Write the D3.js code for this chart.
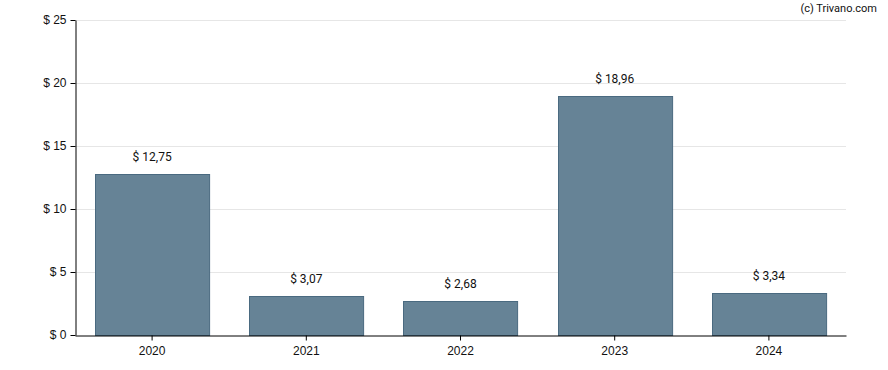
<!DOCTYPE html>
<html>
<head>
<meta charset="utf-8">
<script src="https://cdn.jsdelivr.net/npm/d3@7/dist/d3.min.js"></script>
<style>
  body { margin: 0; background: #fff; }
  svg { display: block; font-family: Roboto, "Noto Sans", sans-serif; }
  .grid line { stroke: #e6e6e6; }
  .axis text { font-size: 12px; fill: #111; }
  .axis path, .axis line { stroke: #000; }
</style>
</head>
<body>
<div id="chart"></div>
<script>
const years = ['2020', '2021', '2022', '2023', '2024'];
const values = [12.75, 3.07, 2.68, 18.96, 3.34];
const yTicks = [0, 5, 10, 15, 20, 25];

const width = 888, height = 370;
const margin = { top: 20, right: 42, bottom: 35, left: 75 };
const innerW = width - margin.left - margin.right;
const innerH = height - margin.top - margin.bottom;

const fmt = v => '$ ' + v.toFixed(2).replace('.', ',');

const svg = d3.select('#chart').append('svg')
  .attr('width', width)
  .attr('height', height);

const chart = svg.append('g')
  .attr('transform', `translate(${margin.left}, ${margin.top})`);

const xScale = d3.scaleBand().domain(years).range([0, innerW]).paddingInner(0.26).paddingOuter(0.13);
const yScale = d3.scaleLinear().domain([0, 25]).range([innerH, 0]);

// gridlines
chart.append('g')
  .attr('class', 'grid')
  .selectAll('line')
  .data(yTicks.filter(t => t > 0))
  .enter().append('line')
  .attr('x1', 0)
  .attr('x2', innerW)
  .attr('y1', d => Math.round(yScale(d)) + 0.5)
  .attr('y2', d => Math.round(yScale(d)) + 0.5);

// bars
chart.selectAll('.bar')
  .data(values)
  .enter().append('rect')
  .attr('class', 'bar')
  .attr('x', (d, i) => Math.round(xScale(years[i])) + 0.5)
  .attr('y', d => Math.round(yScale(d)) + 0.5)
  .attr('width', xScale.bandwidth())
  .attr('height', d => innerH - Math.round(yScale(d)))
  .style('fill', '#668396')
  .style('stroke', '#4a6a80')
  .style('stroke-width', 1);

// value labels
chart.selectAll('.label')
  .data(values)
  .enter().append('text')
  .attr('class', 'label')
  .attr('x', (d, i) => xScale(years[i]) + xScale.bandwidth() / 2)
  .attr('y', d => yScale(d) - 13)
  .attr('text-anchor', 'middle')
  .style('font-size', '12px')
  .style('fill', '#111')
  .text(d => fmt(d));

// axes
chart.append('g')
  .attr('class', 'axis axis-y')
  .attr('transform', 'translate(0.5, 0)')
  .call(d3.axisLeft(yScale).tickValues(yTicks).tickSize(5).tickSizeOuter(0).tickFormat(d => '$ ' + d));

chart.append('g')
  .attr('class', 'axis axis-x')
  .attr('transform', `translate(0, ${innerH + 0.5})`)
  .call(d3.axisBottom(xScale).tickSize(5).tickSizeOuter(0).tickPadding(6));

chart.selectAll('.axis-y text').attr('dx', '-1');

svg.append('text')
  .attr('x', 877)
  .attr('y', 12)
  .attr('text-anchor', 'end')
  .style('font-size', '11px')
  .style('fill', '#111')
  .text('(c) Trivano.com');
</script>
</body>
</html>
